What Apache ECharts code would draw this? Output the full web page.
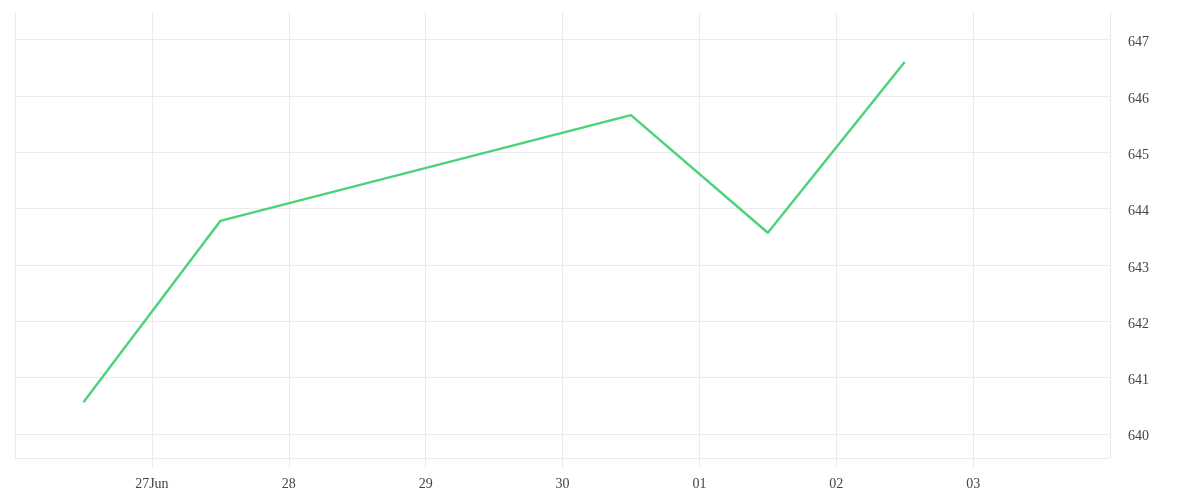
<!DOCTYPE html>
<html>
<head>
<meta charset="utf-8">
<script src="https://cdn.jsdelivr.net/npm/echarts@6/dist/echarts.min.js"></script>
<style>
  html, body { margin: 0; padding: 0; background: #fff; }
  #chart { width: 1200px; height: 500px; }
</style>
</head>
<body>
<div id="chart"></div>
<script>
// 数据
var dates = ['2025-06-26T12:00:00Z', '2025-06-27T12:00:00Z', '2025-06-30T12:00:00Z', '2025-07-01T12:00:00Z', '2025-07-02T12:00:00Z'];
var prices = [640.56, 643.78, 645.66, 643.57, 646.60];
var tickDays = ['2025-06-27', '2025-06-28', '2025-06-29', '2025-06-30', '2025-07-01', '2025-07-02', '2025-07-03'];
var tickLabels = ['27Jun', '28', '29', '30', '01', '02', '03'];

var DAY = 24 * 3600 * 1000;
var xMin = Date.UTC(2025, 5, 26);
var xMax = Date.UTC(2025, 6, 4);

var labelMap = {};
tickDays.forEach(function (d, i) {
    labelMap[Date.parse(d + 'T00:00:00Z')] = tickLabels[i];
});

var chart = echarts.init(document.getElementById('chart'));

var option = {
    animation: false,
    grid: { left: 15, right: 90, top: 12, bottom: 42 },
    textStyle: { fontFamily: 'Liberation Serif' },
    xAxis: {
        type: 'value',
        min: xMin,
        max: xMax,
        interval: DAY,
        axisLine: { show: true, lineStyle: { color: '#ebebeb', width: 1 } },
        axisTick: { show: true, length: 10, lineStyle: { color: '#ebebeb' } },
        splitLine: { show: true, lineStyle: { color: '#ebebeb' } },
        axisLabel: {
            showMinLabel: false,
            showMaxLabel: false,
            margin: 19,
            color: '#444',
            fontSize: 14,
            fontFamily: 'Liberation Serif',
            formatter: function (v) {
                return labelMap[v] || '';
            }
        }
    },
    yAxis: {
        type: 'value',
        position: 'right',
        min: 639.57,
        max: 647.49,
        splitNumber: 8,
        axisLine: { show: false },
        axisTick: { show: false },
        splitLine: {
            show: true,
            showMinLine: false,
            showMaxLine: false,
            lineStyle: { color: '#ebebeb' }
        },
        axisLabel: {
            showMinLabel: false,
            showMaxLabel: false,
            margin: 18,
            color: '#444',
            fontSize: 14,
            fontFamily: 'Liberation Serif',
            verticalAlign: 'top',
            lineHeight: 6
        }
    },
    series: [{
        type: 'line',
        data: dates.map(function (d, i) { return [Date.parse(d), prices[i]]; }),
        showSymbol: false,
        symbol: 'none',
        lineStyle: { color: '#4bd27a', width: 2.4 },
        itemStyle: { color: '#4bd27a' }
    }]
};

chart.setOption(option);
</script>
</body>
</html>
